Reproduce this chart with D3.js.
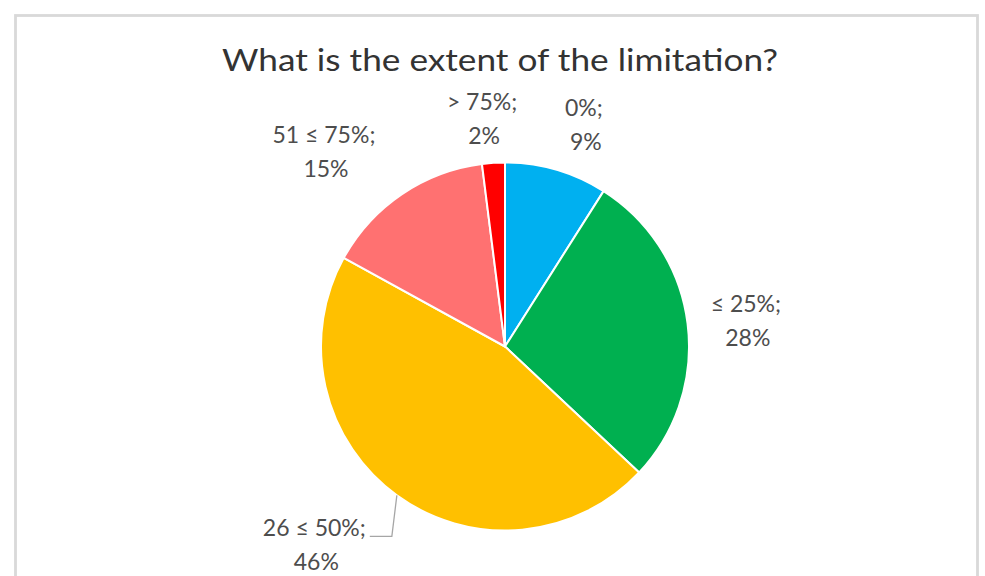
<!DOCTYPE html>
<html>
<head>
<meta charset="utf-8">
<script src="https://cdn.jsdelivr.net/npm/d3@7/dist/d3.min.js"></script>
<style>
  html, body { margin: 0; padding: 0; background: #ffffff; }
  svg { display: block; }
  text { font-family: Lato, "Open Sans", "DejaVu Sans", sans-serif; }
</style>
</head>
<body>
<svg id="chart" width="985" height="576"></svg>
<script>
// Survey answers, clockwise from 12 o'clock
const categories = ["0%", "\u2264 25%", "26 \u2264 50%", "51 \u2264 75%", "> 75%"];
const shares = [9, 28, 46, 15, 2];
const sliceColors = ["#00B0F0", "#00B050", "#FFC000", "#FF7171", "#FF0000"];
const chartTitle = "What is the extent of the limitation?";

// Label placement around the pie: distance of each label from the centre
// and a small angular nudge (degrees) relative to the slice mid-angle
const labelDistance = [233, 242, 277, 264, 227];
const labelNudge = [3.6, 1.6, 7.5, -9.1, -2.2];
const leaderFor = [false, false, true, false, false];

const W = 985, H = 576;
const cx = 505, cy = 346.5, R = 184;

const svg = d3.select("#chart");

// Chart area frame
svg.append("rect")
  .attr("x", 15.5).attr("y", 15.5)
  .attr("width", 962).attr("height", 600)
  .attr("fill", "#ffffff")
  .attr("stroke", "#d9d9d9")
  .attr("stroke-width", 2.8);

// Title
svg.append("text")
  .attr("x", 500).attr("y", 71)
  .attr("text-anchor", "middle")
  .attr("fill", "#333333")
  .attr("font-size", 30)
  .attr("textLength", 556)
  .attr("lengthAdjust", "spacingAndGlyphs")
  .text(chartTitle);

const data = categories.map((c, i) => ({ cat: c, value: shares[i], color: sliceColors[i], i }));

const pie = d3.pie().value(d => d.value).sort(null);
const arcs = pie(data);
const arc = d3.arc().innerRadius(0).outerRadius(R);

const g = svg.append("g").attr("transform", `translate(${cx},${cy})`);

g.selectAll("path.slice")
  .data(arcs)
  .join("path")
  .attr("class", "slice")
  .attr("d", arc)
  .attr("fill", d => d.data.color)
  .attr("stroke", "#ffffff")
  .attr("stroke-width", 2)
  .attr("stroke-linejoin", "round");

// Data labels: "category;" on the first line, percentage below
const lineGap = 34;
const polar = (ang, dist) => [Math.sin(ang) * dist, -Math.cos(ang) * dist];

arcs.forEach((a, i) => {
  const mid = (a.startAngle + a.endAngle) / 2;
  const ang = mid + labelNudge[i] * Math.PI / 180;
  const [lx, ly] = polar(ang, labelDistance[i]);
  const t = g.append("text")
    .attr("text-anchor", "middle")
    .attr("fill", "#4d4d4d")
    .attr("font-size", 23);
  t.append("tspan")
    .attr("x", lx).attr("y", ly - lineGap / 2 + 6)
    .text(a.data.cat + ";");
  t.append("tspan")
    .attr("x", lx + 2).attr("y", ly + lineGap / 2 + 6)
    .text(d3.format(".0%")(a.data.value / 100));

  if (leaderFor[i]) {
    const first = t.select("tspan").node();
    const bb = first.getBBox();
    const [ex, ey] = polar(mid, R);
    const yLine = bb.y + bb.height - 5;
    g.append("path")
      .attr("d", d3.line()([[bb.x + bb.width + 4, yLine], [ex - 5, yLine], [ex, ey]]))
      .attr("fill", "none")
      .attr("stroke", "#a6a6a6")
      .attr("stroke-width", 1.3);
  }
});
</script>
</body>
</html>
